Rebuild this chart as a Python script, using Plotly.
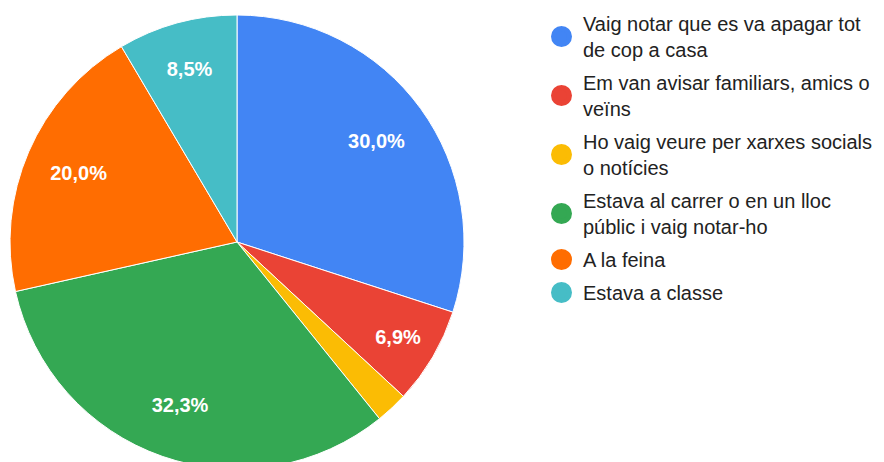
import plotly.graph_objects as go

categories = [
    "Vaig notar que es va apagar tot<br>de cop a casa",
    "Em van avisar familiars, amics o<br>veïns",
    "Ho vaig veure per xarxes socials<br>o notícies",
    "Estava al carrer o en un lloc<br>públic i vaig notar-ho",
    "A la feina",
    "Estava a classe",
]
values = [30.0, 6.9, 2.3, 32.3, 20.0, 8.5]
colors = ["#4285F4", "#EA4335", "#FBBC04", "#34A853", "#FF6D01", "#46BDC6"]
label_templates = ["%{percent:.1%}", "%{percent:.1%}", "", "%{percent:.1%}", "%{percent:.1%}", "%{percent:.1%}"]

W, H = 884, 480
cx, cy, r = 237, 242, 227
pie_domain = dict(x=[(cx - r) / W, (cx + r) / W], y=[1 - (cy + r) / H, 1 - (cy - r) / H])

fig = go.Figure()
# coloured slices
fig.add_trace(go.Pie(
    labels=categories,
    values=values,
    sort=False,
    direction="clockwise",
    rotation=0,
    marker=dict(colors=colors, line=dict(color="white", width=1)),
    textinfo="none",
    showlegend=False,
    hoverinfo="label+percent",
    domain=pie_domain,
))
# percentage labels, placed in an outer ring (transparent donut over the same slices)
fig.add_trace(go.Pie(
    labels=categories,
    values=values,
    sort=False,
    direction="clockwise",
    rotation=0,
    hole=0.52,
    marker=dict(colors=["rgba(0,0,0,0)"] * len(values), line=dict(width=0)),
    texttemplate=label_templates,
    textposition="inside",
    insidetextorientation="horizontal",
    textfont=dict(family="Liberation Sans, Arial, sans-serif", size=20, color="white", weight="bold"),
    showlegend=False,
    hoverinfo="skip",
    domain=pie_domain,
))

for i, (cat, col) in enumerate(zip(categories, colors)):
    fig.add_trace(go.Scatter(
        x=[None], y=[None], mode="markers", name=cat,
        legendgroup=f"g{i}",
        marker=dict(color=col, size=16, symbol="circle", line=dict(color=col, width=5)),
        hoverinfo="skip",
    ))

fig.update_layout(
    width=W, height=H,
    margin=dict(l=0, r=0, t=0, b=0),
    paper_bgcolor="white",
    plot_bgcolor="white",
    separators=",.",
    xaxis=dict(visible=False),
    yaxis=dict(visible=False),
    showlegend=True,
    legend=dict(
        x=540 / W, y=1 - 4 / H, xanchor="left", yanchor="top",
        font=dict(family="Liberation Sans, Arial, sans-serif", size=20, color="#222222"),
        tracegroupgap=4,
        itemwidth=33,
        bgcolor="rgba(0,0,0,0)",
    ),
)

fig.write_html("out.html", config={"displayModeBar": False},
               post_script="document.body.style.margin='0';document.body.style.overflow='hidden';")
